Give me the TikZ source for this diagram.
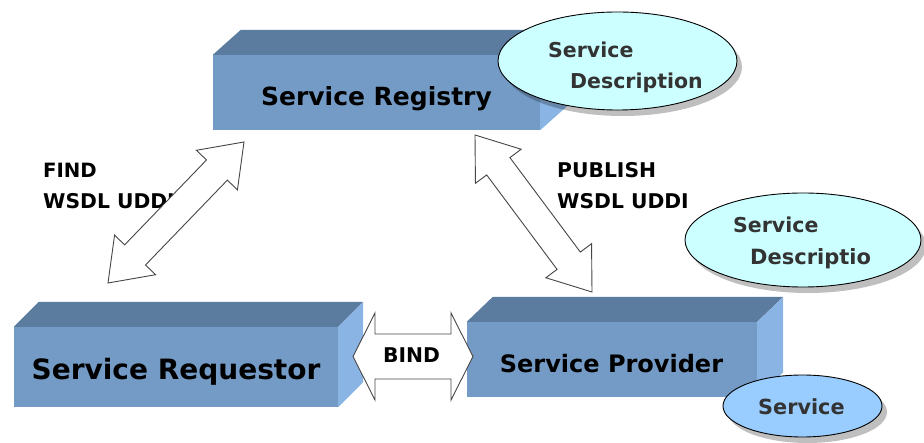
\documentclass[tikz,border=0pt]{standalone}
\usepackage{fontspec}
\setmainfont{DejaVu Sans}
\usetikzlibrary{calc,shapes.geometric,shadows}

\definecolor{boxfront}{RGB}{116,155,198}
\definecolor{boxtop}{RGB}{91,124,158}
\definecolor{boxside}{RGB}{137,180,228}
\definecolor{desccyan}{RGB}{204,255,255}
\definecolor{svcblue}{RGB}{153,204,255}
\definecolor{inktext}{RGB}{51,51,51}
\definecolor{arrowink}{RGB}{70,70,70}

\newcommand\fsz[1]{\fontsize{#1}{#1}\selectfont}

% top and side faces of a 3D box whose front face is node #1
\newcommand\boxfaces[3]{%
  \fill[boxtop] (#1.north west) -- ++(#2,#3) -- ($(#1.north east)+(#2,#3)$) -- (#1.north east) -- cycle;
  \fill[boxside] (#1.north east) -- ++(#2,#3) -- ($(#1.south east)+(#2,#3)$) -- (#1.south east) -- cycle;
}

% hollow double-headed block arrow: tail, tip, shaft half width, head half width, head length
\newcommand\blockarrow[5]{%
  \draw[blockline]
    (#2) -- ($(#2)!#5!(#1)!#4!90:(#1)$) -- ($(#2)!#5!(#1)!#3!90:(#1)$)
    -- ($(#1)!#5!(#2)!#3!-90:(#2)$) -- ($(#1)!#5!(#2)!#4!-90:(#2)$)
    -- (#1)
    -- ($(#1)!#5!(#2)!#4!90:(#2)$) -- ($(#1)!#5!(#2)!#3!90:(#2)$)
    -- ($(#2)!#5!(#1)!#3!-90:(#1)$) -- ($(#2)!#5!(#1)!#4!-90:(#1)$) -- cycle;
}

\tikzset{
  front/.style={rectangle, fill=boxfront, inner sep=0pt},
  boxlabel/.style={anchor=base, inner sep=0pt, text=black, font=\bfseries},
  desc/.style={ellipse, draw=black, line width=0.9pt, fill=desccyan, inner sep=0pt,
    drop shadow={shadow xshift=5pt, shadow yshift=-6pt, fill=black, opacity=0.25}},
  svc/.style={desc, fill=svcblue},
  desclabel/.style={anchor=base west, inner sep=0pt, text=inktext, font=\bfseries\fsz{20.5}},
  toplabel/.style={anchor=base west, inner sep=0pt, text=black, font=\bfseries\fsz{20.3}},
  blockline/.style={draw=arrowink, line width=0.9pt, fill=white, line join=miter},
}

\begin{document}
\begin{tikzpicture}[x=1pt,y=-1pt]
\useasboundingbox (0,0) rectangle (924,443);

% registry box
\node[front, minimum width=327pt, minimum height=75pt] (registry) at (376.5,92.5) {};
\boxfaces{registry}{28}{-25}
\node[boxlabel, font=\bfseries\fsz{25}] (registry-text) at (376.5,106) {Service Registry};

% description attached to the registry
\node[desc, minimum width=239pt, minimum height=98pt] (desc-reg) at (617.5,61) {};
\node[desclabel] (desc-reg-1) at (548,58) {Service};
\node[desclabel] (desc-reg-2) at (570,89) {Description};

% requestor box
\node[front, minimum width=324pt, minimum height=80pt] (requestor) at (176,367) {};
\boxfaces{requestor}{25}{-25}
\node[boxlabel, font=\bfseries\fsz{28}] (requestor-text) at (176,380) {Service Requestor};

% provider box
\node[front, minimum width=290pt, minimum height=75pt] (provider) at (612,359.5) {};
\boxfaces{provider}{26}{-25}
\node[boxlabel, font=\bfseries\fsz{24}] (provider-text) at (611.5,373) {Service Provider};

% description attached to the provider
\node[desc, minimum width=236pt, minimum height=94pt] (desc-prov) at (803,240) {};
\node[desclabel] (desc-prov-1) at (733,233) {Service};
\node[desclabel, font=\bfseries\fsz{21}] (desc-prov-2) at (750,265) {Descriptio};

% the service itself
\node[svc, minimum width=159pt, minimum height=62pt] (service) at (802.5,406) {};
\node[desclabel, font=\bfseries\fsz{20.8}] (service-text) at (758,415) {Service};

% interaction labels
\node[toplabel, font=\bfseries\fsz{19.7}] (find-1) at (43,178) {FIND};
\node[toplabel] (find-2) at (43,209) {WSDL UDDI};
\node[toplabel] (pub-1) at (557,178) {PUBLISH};
\node[toplabel] (pub-2) at (557,209) {WSDL UDDI};

% block arrows between the roles
\coordinate (find-tail) at (108,283);
\coordinate (find-tip) at (244,142);
\coordinate (pub-tail) at (592,292);
\coordinate (pub-tip) at (475,135);
\coordinate (bind-tail) at (353,356.5);
\coordinate (bind-tip) at (473,356.5);

\blockarrow{find-tail}{find-tip}{14.5pt}{28.5pt}{39pt}
\blockarrow{pub-tail}{pub-tip}{14.5pt}{28.5pt}{39pt}
\blockarrow{bind-tail}{bind-tip}{22.5pt}{43.5pt}{22pt}
\node[boxlabel, font=\bfseries\fsz{20.3}] (bind-text) at (411.5,363) {BIND};
\end{tikzpicture}
\end{document}
